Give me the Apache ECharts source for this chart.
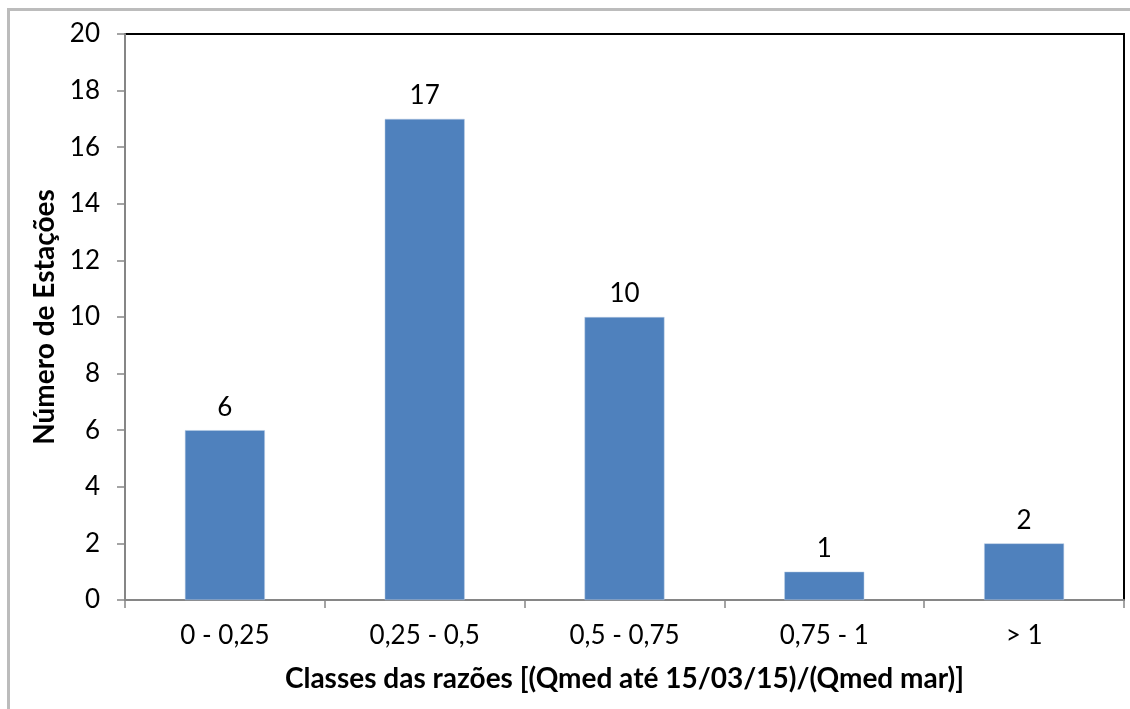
<!DOCTYPE html>
<html>
<head>
<meta charset="utf-8">
<script src="https://cdn.jsdelivr.net/npm/echarts@6/dist/echarts.min.js"></script>
<style>
  html, body { margin: 0; padding: 0; background: #fff; }
  #chart { width: 1130px; height: 709px; }
</style>
</head>
<body>
<div id="chart"></div>
<script>
// classes das razões e número de estações
const classes = ['0 - 0,25', '0,25 - 0,5', '0,5 - 0,75', '0,75 - 1', '> 1']
const estacoes = [6, 17, 10, 1, 2]
const yTicks = { min: 0, max: 20, interval: 2 }

const chart = echarts.init(document.getElementById('chart'))
const fontFamily = 'Lato, "Open Sans", sans-serif'

const option = {
  animation: false,
  backgroundColor: '#fff',
  graphic: [{
    type: 'rect',
    silent: true,
    shape: { x: 8.5, y: 9.5, width: 1140, height: 720 },
    style: { fill: 'none', stroke: '#bcbcbc', lineWidth: 3 }
  }],
  grid: {
    left: 125, top: 34, right: 6, bottom: 109,
    show: true,
    borderColor: '#000',
    borderWidth: 2
  },
  xAxis: {
    type: 'category',
    data: classes,
    boundaryGap: true,
    name: 'Classes das razões [(Qmed até 15/03/15)/(Qmed mar)]',
    nameLocation: 'middle',
    nameGap: 65,
    nameTextStyle: { fontFamily: fontFamily, fontSize: 28, fontWeight: 'bold', color: '#000' },
    axisLine: { lineStyle: { color: '#868686', width: 2 } },
    axisTick: { show: true, alignWithLabel: false, length: 8, lineStyle: { color: '#868686', width: 1.5 } },
    axisLabel: { fontFamily: fontFamily, fontSize: 26, color: '#000', margin: 23 }
  },
  yAxis: {
    type: 'value',
    min: yTicks.min,
    max: yTicks.max,
    interval: yTicks.interval,
    name: 'Número de Estações',
    nameLocation: 'middle',
    nameGap: 66,
    nameTextStyle: { fontFamily: fontFamily, fontSize: 28, fontWeight: 'bold', color: '#000' },
    splitLine: { show: false },
    axisLine: { show: true, lineStyle: { color: '#868686', width: 2 } },
    axisTick: { show: true, length: 8, lineStyle: { color: '#868686', width: 1.5 } },
    axisLabel: { fontFamily: fontFamily, fontSize: 26, color: '#000', margin: 25 }
  },
  series: [{
    type: 'bar',
    data: estacoes,
    barWidth: '40%',
    itemStyle: { color: '#4f81bd', borderColor: '#b9cde5', borderWidth: 0.5 },
    label: {
      show: true,
      position: 'top',
      distance: 10,
      fontFamily: fontFamily,
      fontSize: 26,
      color: '#000'
    }
  }]
}
chart.setOption(option)
</script>
</body>
</html>
